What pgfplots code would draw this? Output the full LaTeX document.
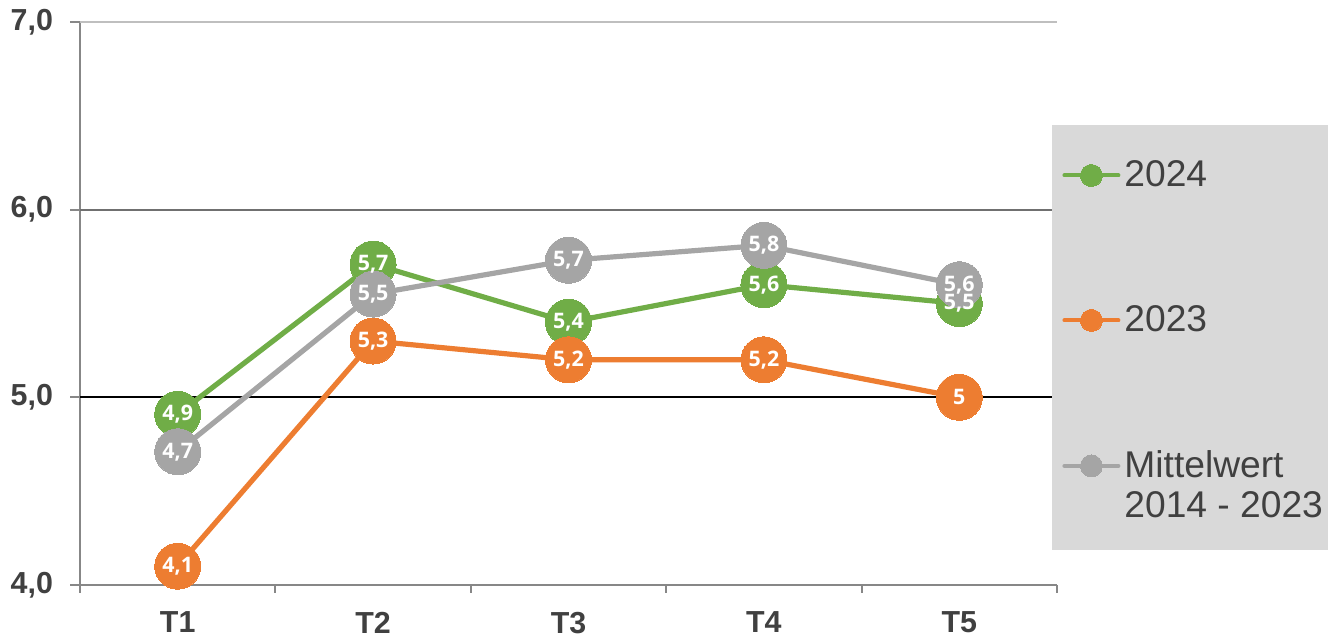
\documentclass[border=0pt]{standalone}
\usepackage{pgfplots}
\pgfplotsset{compat=1.18}
\usepackage{pgfplotstable}
\usepackage{fontspec}
\setmainfont{Liberation Sans}
\newfontfamily\labfont{Open Sans}
\definecolor{cgreen}{HTML}{70AD47}
\definecolor{corange}{HTML}{ED7D31}
\definecolor{cgray}{HTML}{A5A5A5}
\definecolor{txt}{HTML}{404040}
\definecolor{leg}{HTML}{D9D9D9}
\definecolor{axgray}{HTML}{878787}
\definecolor{gridmid}{HTML}{707070}
\definecolor{gridlight}{HTML}{BFBFBF}

\pgfplotstableread{
x y label
1 4.91 4,9
2 5.71 5,7
3 5.40 5,4
4 5.60 5,6
5 5.50 5,5
}\greendata
\pgfplotstableread{
x y label
1 4.10 4,1
2 5.30 5,3
3 5.20 5,2
4 5.20 5,2
5 5.00 5
}\orangedata
\pgfplotstableread{
x y label
1 4.71 4,7
2 5.55 5,5
3 5.73 5,7
4 5.81 5,8
5 5.60 5,6
}\graydata

\begin{document}
\begin{tikzpicture}
\path[use as bounding box] (0,0) rectangle (667pt,320pt);
\begin{axis}[
  at={(40pt,27.5pt)}, anchor=south west,
  width=488.5pt, height=281.5pt, scale only axis,
  xmin=0.5, xmax=5.5, ymin=4, ymax=7,
  clip=false,
  axis x line*=bottom, axis y line*=left,
  axis line style={axgray, line width=1pt, -},
  xtick={1,2,3,4,5},
  xticklabels={T1,T2,T3,T4,T5},
  minor xtick={0.5,1.5,2.5,3.5,4.5,5.5},
  ytick={4,5,6,7},
  yticklabels={{4,0},{5,0},{6,0},{7,0}},
  tick align=outside,
  major tick length=5pt, minor tick length=4pt,
  major x tick style={draw=none},
  minor x tick style={axgray, line width=1pt},
  major y tick style={axgray, line width=1pt},
  ticklabel style={font=\bfseries\fontsize{15.2}{17}\selectfont, text=txt},
  xticklabel style={yshift=-5pt},
  yticklabel style={xshift=-5pt},
  point meta=explicit symbolic,
  nodes near coords style={font=\labfont\bfseries\fontsize{10.7}{12}\selectfont, text=white, anchor=center},
  legend cell align=left,
  legend style={at={(axis description cs:0.999,0.768)}, anchor=north west, draw=none, fill=none,
    font=\fontsize{18.6}{20}\selectfont, text=txt, row sep=54pt, cells={align=left}},
  legend image code/.code={\draw[#1, line width=2pt, line cap=round, mark size=5.5pt, mark repeat=2, mark phase=2] plot coordinates {(0pt,0pt) (13.5pt,0pt) (27pt,0pt)};},
  labelonly/.style={draw=none, mark=none, nodes near coords, forget plot},
]
\draw[gridlight, line width=1pt] (axis cs:0.5,7) -- (axis cs:5.5,7);
\draw[gridmid, line width=1pt] (axis cs:0.5,6) -- (axis cs:5.5,6);
\draw[black, line width=1pt] (axis cs:0.5,5) -- (axis cs:5.5,5);
\fill[leg] (axis description cs:0.9949,0.8170) rectangle (axis description cs:1.2774,0.0622);
\addplot[cgreen, line width=2.6pt, mark=*, mark size=11.5pt, mark options={fill=cgreen, draw=cgreen, line width=0pt}] table[x=x, y=y, meta=label] {\greendata};
\addlegendentry{2024}
\addplot[corange, line width=2.6pt, mark=*, mark size=11.5pt, mark options={fill=corange, draw=corange, line width=0pt}] table[x=x, y=y, meta=label] {\orangedata};
\addlegendentry{2023}
\addplot[cgray, line width=2.6pt, mark=*, mark size=11.5pt, mark options={fill=cgray, draw=cgray, line width=0pt}, legend image post style={yshift=10pt}] table[x=x, y=y, meta=label] {\graydata};
\addlegendentry{Mittelwert\\2014 - 2023}
\addplot[labelonly] table[x=x, y=y, meta=label] {\greendata};
\addplot[labelonly] table[x=x, y=y, meta=label] {\orangedata};
\addplot[labelonly] table[x=x, y=y, meta=label] {\graydata};
\end{axis}
\end{tikzpicture}
\end{document}
